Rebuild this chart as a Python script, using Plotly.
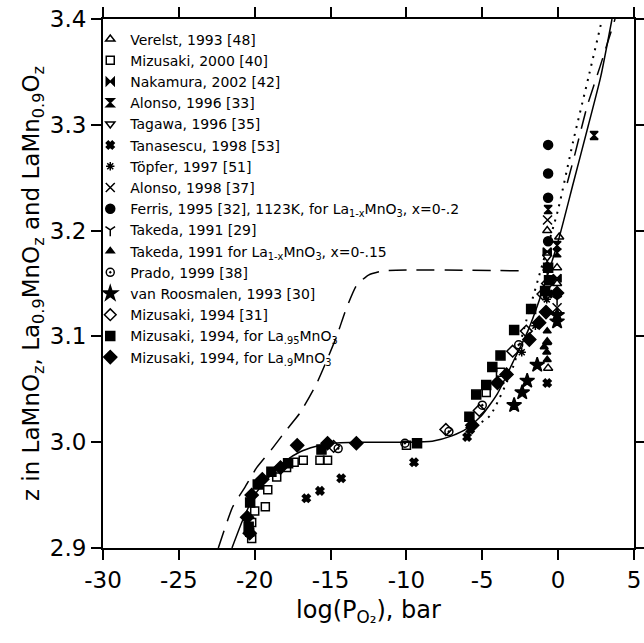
import plotly.graph_objects as go

# ---- axis ticks ----
x_tickvals = [-30, -25, -20, -15, -10, -5, 0, 5]
x_ticktext = ["-30", "-25", "-20", "-15", "-10", "-5", "0", "5"]
y_tickvals = [2.9, 3.0, 3.1, 3.2, 3.3, 3.4]
y_ticktext = ["2.9", "3.0", "3.1", "3.2", "3.3", "3.4"]

# ---- model curves ----
solid_x = [-21.5, -20.8, -20.0, -19.0, -18.0, -17.0, -16.0, -15.0, -13.0, -10.0, -8.3, -7.0, -6.0,
           -5.0, -4.0, -3.0, -2.0, -1.25, 0.0, 1.0, 2.0, 2.8, 3.55]
solid_y = [2.900, 2.926, 2.950, 2.968, 2.982, 2.991, 2.996, 2.999, 3.000, 3.000, 3.001, 3.006, 3.013,
           3.026, 3.046, 3.075, 3.105, 3.134, 3.19, 3.245, 3.300, 3.345, 3.400]

dashed_x = [-22.4, -21.45, -20.66, -19.87, -18.9, -18.0, -17.0, -15.9, -14.6, -14.0, -13.3, -12.5,
            -11.5, -2.4, None, 0.6, 1.12, 1.9, 2.76, 3.75]
dashed_y = [2.900, 2.939, 2.957, 2.976, 2.993, 3.010, 3.028, 3.056, 3.100, 3.125, 3.148, 3.158,
            3.162, 3.162, None, 3.245, 3.273, 3.317, 3.355, 3.400]

dotted_x = [-5.5, -4.5, -3.0, -2.0, -1.0, 0.0, 1.0, 2.0, 2.9]
dotted_y = [3.015, 3.025, 3.070, 3.120, 3.170, 3.220, 3.285, 3.345, 3.400]

# ---- data series ----
verelst_x = [-0.72, 0.07, -0.72, -0.07, -0.07, -0.66, -0.72]
verelst_y = [3.200, 3.194, 3.167, 3.165, 3.150, 3.070, 3.095]

miz2000_x = [-20.2, -20.33, -20.2, -20.0, -19.3, -19.14, -18.55, -17.9, -17.4, -16.8, -15.7, -15.2,
             -10.0, -4.74, -3.8]
miz2000_y = [2.909, 2.915, 2.924, 2.935, 2.939, 2.955, 2.967, 2.976, 2.981, 2.983, 2.983, 2.983,
             2.997, 3.047, 3.066]

nakamura_x = [-0.72, -0.70, -0.07]
nakamura_y = [3.180, 3.140, 3.155]

alonso96_x = [-0.66, 2.37, -0.07, -0.07]
alonso96_y = [3.220, 3.290, 3.179, 3.186]

tagawa_x = [-0.72, -0.07]
tagawa_y = [3.175, 3.120]

tanasescu_x = [-16.6, -15.7, -14.3, -9.5, -6.0, -5.8, -0.72]
tanasescu_y = [2.947, 2.954, 2.966, 2.981, 3.005, 3.012, 3.056]

topfer_x = [-2.4, -1.5, -0.75]
topfer_y = [3.085, 3.110, 3.135]

alonso98_x = [-0.07, -0.7]
alonso98_y = [3.127, 3.210]

ferris_x = [-0.66, -0.66, -0.66, -0.66]
ferris_y = [3.281, 3.254, 3.231, 3.190]

takeda29_x = [-0.72, -0.07]
takeda29_y = [3.160, 3.135]

takedaLa_x = [-0.92, -0.72, -0.75, -0.72, -0.72]
takedaLa_y = [3.090, 3.094, 3.085, 3.078, 3.105]

prado_x = [-14.5, -10.1, -7.2, -5.0, -2.6]
prado_y = [2.994, 2.999, 3.010, 3.035, 3.092]

roosmalen_x = [-2.9, -2.37, -2.04, -1.38, -0.07, -0.07]
roosmalen_y = [3.035, 3.047, 3.058, 3.073, 3.114, 3.120]

miz94_x = [-14.8, -7.4, -5.2, -3.0, -2.1, -1.0, -0.7]
miz94_y = [2.996, 3.012, 3.030, 3.086, 3.105, 3.140, 3.150]

miz95_x = [-20.4, -20.3, -19.8, -18.9, -17.8, -15.6, -9.3, -5.85, -5.4, -4.74, -4.34, -3.8, -2.9,
           -1.78, -0.86, -0.6, -0.66]
miz95_y = [2.920, 2.943, 2.960, 2.972, 2.980, 2.993, 2.999, 3.024, 3.045, 3.054, 3.071, 3.082, 3.106,
           3.126, 3.143, 3.153, 3.165]

miz9_x = [-20.5, -20.33, -20.2, -19.5, -18.3, -17.2, -15.2, -13.3, -5.66, -4.0, -3.4, -1.9, -1.25,
          -0.8, -0.07]
miz9_y = [2.929, 2.914, 2.950, 2.965, 2.976, 2.997, 2.999, 2.999, 3.016, 3.056, 3.064, 3.097, 3.113,
          3.123, 3.141]

series = [
    ("Verelst, 1993 [48]", verelst_x, verelst_y, "triangle-up-open", 8),
    ("Mizusaki, 2000 [40]", miz2000_x, miz2000_y, "square-open", 8),
    ("Nakamura, 2002 [42]", nakamura_x, nakamura_y, "bowtie", 8),
    ("Alonso, 1996 [33]", alonso96_x, alonso96_y, "hourglass", 8),
    ("Tagawa, 1996 [35]", tagawa_x, tagawa_y, "triangle-down-open", 8),
    ("Tanasescu, 1998 [53]", tanasescu_x, tanasescu_y, "x", 7),
    ("Töpfer, 1997 [51]", topfer_x, topfer_y, "asterisk-open", 7),
    ("Alonso, 1998 [37]", alonso98_x, alonso98_y, "x-thin-open", 9),
    ("Ferris, 1995 [32], 1123K, for La<sub>1-x</sub>MnO<sub>3</sub>, x=0-.2", ferris_x, ferris_y, "circle", 9),
    ("Takeda, 1991 [29]", takeda29_x, takeda29_y, "y-down-open", 8),
    ("Takeda, 1991 for La<sub>1-x</sub>MnO<sub>3</sub>, x=0-.15", takedaLa_x, takedaLa_y, "triangle-up", 7),
    ("Prado, 1999 [38]", prado_x, prado_y, "circle-open-dot", 8),
    ("van Roosmalen, 1993 [30]", roosmalen_x, roosmalen_y, "star", 11),
    ("Mizusaki, 1994 [31]", miz94_x, miz94_y, "diamond-open", 9),
    ("Mizusaki, 1994, for La<sub>.95</sub>MnO<sub>3</sub>", miz95_x, miz95_y, "square", 9),
    ("Mizusaki, 1994, for La<sub>.9</sub>MnO<sub>3</sub>", miz9_x, miz9_y, "diamond", 10),
]

fig = go.Figure()

fig.add_trace(go.Scatter(x=solid_x, y=solid_y, mode="lines",
                         line=dict(color="black", width=1.5, shape="spline", smoothing=0.6),
                         showlegend=False, hoverinfo="skip"))
fig.add_trace(go.Scatter(x=dashed_x, y=dashed_y, mode="lines", connectgaps=False,
                         line=dict(color="black", width=1.5, dash="18px,10px", shape="spline", smoothing=0.5),
                         showlegend=False, hoverinfo="skip"))
fig.add_trace(go.Scatter(x=dotted_x, y=dotted_y, mode="lines",
                         line=dict(color="black", width=2, dash="2px,6px", shape="spline", smoothing=0.6),
                         showlegend=False, hoverinfo="skip"))

for name, xs, ys, sym, sz in series:
    fig.add_trace(go.Scatter(
        x=xs, y=ys, mode="markers", name=name,
        marker=dict(symbol=sym, size=sz, color="black", line=dict(color="black", width=1.5)),
    ))

font_family = "DejaVu Sans, Liberation Sans, Arial, sans-serif"

fig.update_layout(
    width=644, height=643,
    margin=dict(l=103, r=10, t=19, b=95, autoexpand=False),
    plot_bgcolor="white", paper_bgcolor="white",
    font=dict(family=font_family, color="black", size=23),
    showlegend=True,
    legend=dict(
        x=-0.024, y=0.9915, xanchor="left", yanchor="top",
        bgcolor="rgba(0,0,0,0)", borderwidth=0,
        font=dict(size=14, family=font_family, color="black"),
        tracegroupgap=0, itemwidth=30,
    ),
    xaxis=dict(
        range=[-30, 5], tickvals=x_tickvals, ticktext=x_ticktext,
        showline=True, linecolor="black", linewidth=2, mirror="ticks",
        ticks="outside", ticklen=10, tickwidth=1.5, tickcolor="black",
        showgrid=False, zeroline=False,
        tickfont=dict(size=23),
        title=dict(text="log(P<sub>O₂</sub>), bar", font=dict(size=24), standoff=10),
    ),
    yaxis=dict(
        range=[2.9, 3.4], tickvals=y_tickvals, ticktext=y_ticktext,
        showline=True, linecolor="black", linewidth=2, mirror="ticks",
        ticks="outside", ticklen=10, tickwidth=1.5, tickcolor="black",
        showgrid=False, zeroline=False,
        tickfont=dict(size=23),
        title=dict(text="z in LaMnO<sub>z</sub>, La<sub>0.9</sub>MnO<sub>z</sub> and LaMn<sub>0.9</sub>O<sub>z</sub>",
                   font=dict(size=23), standoff=4),
    ),
)

fig.write_html("out.html")
